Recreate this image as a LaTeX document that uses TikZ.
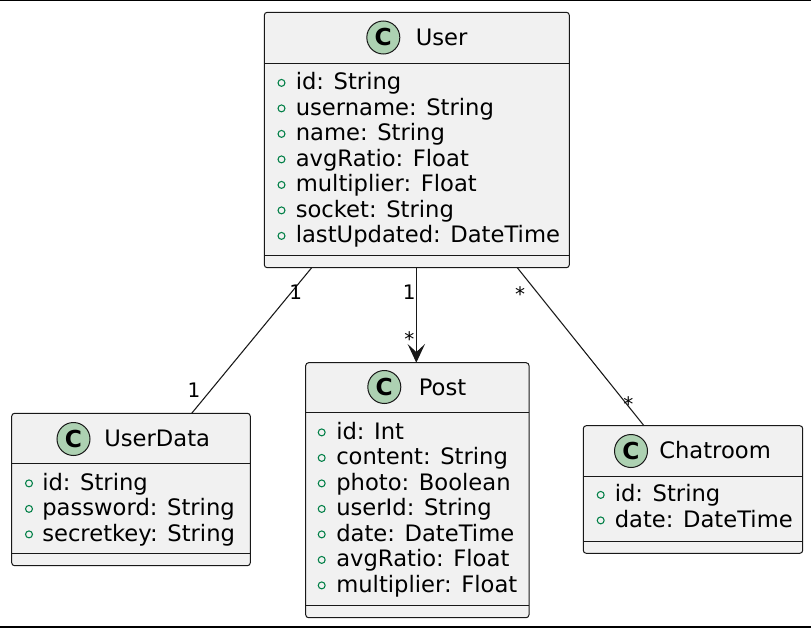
\documentclass[tikz,border=0pt]{standalone}
\usepackage{fontspec}
\setmainfont{DejaVu Sans}
\usetikzlibrary{arrows.meta,fit}
\definecolor{boxfill}{HTML}{F1F1F1}
\definecolor{boxline}{HTML}{181818}
\definecolor{cfill}{HTML}{ADD1B2}
\definecolor{pubgreen}{HTML}{038048}
\tikzset{
 classbox/.style={draw=boxline, fill=boxfill, line width=0.75pt, rounded corners=2.2pt, inner sep=0pt, outer sep=0pt},
 sepline/.style={draw=boxline, line width=0.75pt},
 cicon/.style={circle, draw=boxline, fill=cfill, line width=0.75pt, minimum size=24.75pt, inner sep=0pt, font=\fontsize{17.5}{20}\selectfont\bfseries},
 ctitle/.style={anchor=base west, inner sep=0pt, font=\fontsize{17}{20}\selectfont},
 attr/.style={anchor=base west, inner sep=0pt, font=\fontsize{17}{20}\selectfont},
 pubdot/.style={circle, draw=pubgreen, line width=0.8pt, minimum size=5.2pt, inner sep=0pt},
 conn/.style={draw=boxline, line width=0.8pt},
 mult/.style={anchor=base, inner sep=0pt, font=\fontsize{15}{18}\selectfont},
 frameline/.style={draw=black, line width=#1},
}
\newcommand\attrrows[5]{%
 \foreach \t [count=\i] in {#5} {
  \node[attr] (#1\i) at (#3, {#4+(\i-1)*25.5}) {\t};
  \node[pubdot] (#1m\i) at (#2, {#4+(\i-1)*25.5-6.6}) {};
 }}
\begin{document}
\begin{tikzpicture}[x=0.75pt,y=-0.75pt]
\useasboundingbox (0,0) rectangle (811,628);
\draw[frameline=0.9pt] (0,0.6) -- (811,0.6);
\draw[frameline=1.5pt] (0,627) -- (811,627);

% User
\node[classbox, fit={(264.3,12.3)(569.3,267.7)}] (user) {};
\draw[sepline] (264.3,63.3) -- (569.3,63.3);
\draw[sepline] (264.3,255.7) -- (569.3,255.7);
\node[cicon] (userC) at (383.3,37.5) {C};
\node[ctitle] (userT) at (415.5,45.5) {User};
\attrrows{ua}{281.5}{295.5}{89.5}{id: String,username: String,name: String,avgRatio: Float,multiplier: Float,socket: String,lastUpdated: DateTime}

% UserData
\node[classbox, fit={(11.7,413.3)(250.3,565.7)}] (userdata) {};
\draw[sepline] (11.7,463.3) -- (250.3,463.3);
\draw[sepline] (11.7,553.3) -- (250.3,553.3);
\node[cicon] (udC) at (73.5,439) {C};
\node[ctitle] (udT) at (104,446) {UserData};
\attrrows{da}{29}{42}{490}{id: String,password: String,secretkey: String}

% Post
\node[classbox, fit={(305.7,362.7)(529,617.7)}] (post) {};
\draw[sepline] (305.7,412.3) -- (529,412.3);
\draw[sepline] (305.7,605.7) -- (529,605.7);
\node[cicon] (postC) at (384.3,387) {C};
\node[ctitle] (postT) at (418.5,395) {Post};
\attrrows{pa}{321.7}{336}{439}{id: Int,content: String,photo: Boolean,userId: String,date: DateTime,avgRatio: Float,multiplier: Float}

% Chatroom
\node[classbox, fit={(583.3,425.7)(802.7,553.3)}] (chatroom) {};
\draw[sepline] (583.3,476) -- (802.7,476);
\draw[sepline] (583.3,541) -- (802.7,541);
\node[cicon] (chC) at (631,451) {C};
\node[ctitle] (chT) at (659,458.5) {Chatroom};
\attrrows{ca}{600.7}{614.5}{501.5}{id: String,date: DateTime}

% connectors
\draw[conn] ([xshift=35.55pt]user.south west) -- ([xshift=135pt]userdata.north west);
\draw[conn, -{Stealth[length=14pt,width=13pt,inset=6pt]}] ([xshift=114pt]user.south west) -- ([xshift=82.95pt]post.north west);
\draw[conn] ([xshift=189.75pt]user.south west) -- ([xshift=45.5pt]chatroom.north west);

% multiplicities
\node[mult] (m1) at (295.7,299.5) {1};
\node[mult] (m2) at (194,397) {1};
\node[mult] (m3) at (409.3,299.5) {1};
\node[mult] (m4) at (409.3,346) {*};
\node[mult] (m5) at (520,301) {*};
\node[mult] (m6) at (628.3,411) {*};
\end{tikzpicture}
\end{document}
